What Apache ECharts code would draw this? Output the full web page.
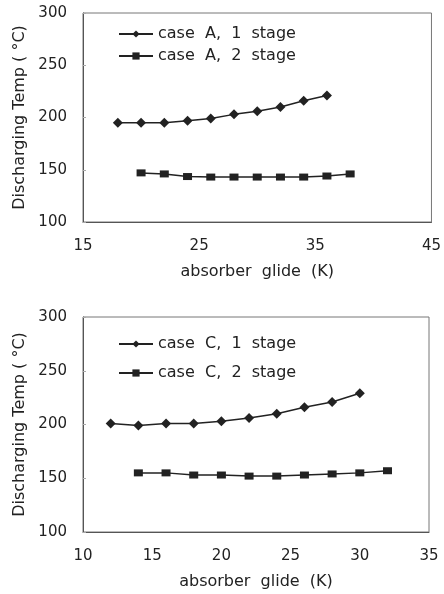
<!DOCTYPE html>
<html>
<head>
<meta charset="utf-8">
<script src="https://cdn.jsdelivr.net/npm/echarts@6/dist/echarts.min.js"></script>
<style>
  html, body { margin: 0; padding: 0; background: #fff; }
  #main { width: 444px; height: 594px; }
</style>
</head>
<body>
<div id="main"></div>
<script>
// case A (top chart)
const xA1 = [18, 20, 22, 24, 26, 28, 30, 32, 34, 36]
const yA1 = [195, 195, 195, 197, 199, 203, 206, 210, 216, 221]
const xA2 = [20, 22, 24, 26, 28, 30, 32, 34, 36, 38]
const yA2 = [147, 146, 143.5, 143, 143, 143, 143, 143, 144, 146]

// case C (bottom chart)
const xC1 = [12, 14, 16, 18, 20, 22, 24, 26, 28, 30]
const yC1 = [201, 199, 201, 201, 203, 206, 210, 216, 221, 229]
const xC2 = [14, 16, 18, 20, 22, 24, 26, 28, 30, 32]
const yC2 = [155, 155, 153, 153, 152, 152, 153, 154, 155, 157]

const namesA = ['case A, 1 stage', 'case A, 2 stage']
const namesC = ['case C, 1 stage', 'case C, 2 stage']

const font = 'DejaVu Sans'
const ink = '#222'

function pairs(xs, ys) {
  return xs.map((x, i) => [x, ys[i]])
}

function xAxisFor(idx, min, max) {
  return {
    gridIndex: idx,
    type: 'value',
    min: min, max: max, interval: idx === 0 ? 10 : 5,
    name: 'absorber  glide  (K)',
    nameLocation: 'middle',
    nameGap: 42,
    nameTextStyle: { fontFamily: font, fontSize: 16, color: ink },
    axisLine: { lineStyle: { color: '#555' } },
    axisTick: { show: false },
    splitLine: { show: false },
    axisLabel: { fontFamily: font, fontSize: 15, color: ink, margin: 17, showMaxLabel: true }
  }
}

function yAxisFor(idx) {
  return {
    gridIndex: idx,
    type: 'value',
    min: 100, max: 300, interval: 50,
    name: 'Discharging Temp ( °C)',
    nameLocation: 'middle',
    nameRotate: 90,
    nameGap: 55,
    nameTextStyle: { fontFamily: font, fontSize: 16, color: ink },
    axisLine: { show: true, lineStyle: { color: '#555' } },
    axisTick: { show: true, inside: true, length: 3, lineStyle: { color: '#aaa' } },
    splitLine: { show: false },
    axisLabel: { fontFamily: font, fontSize: 15, color: ink, margin: 16 }
  }
}

function lineSeries(name, idx, data, symbol, size) {
  return {
    name: name,
    type: 'line',
    xAxisIndex: idx,
    yAxisIndex: idx,
    data: data,
    symbol: symbol,
    symbolSize: size,
    lineStyle: { color: ink, width: 1.5 },
    itemStyle: { color: ink },
    animation: false
  }
}

function legendFor(names, top, gap) {
  return {
    data: names,
    orient: 'vertical',
    left: 113,
    top: top,
    itemWidth: 34,
    itemHeight: 9,
    itemGap: gap,
    formatter: n => n.replace(/ /g, '  '),
    textStyle: { fontFamily: font, fontSize: 16, color: ink, lineHeight: 18 }
  }
}

let chart = echarts.init(document.getElementById('main'))
chart.setOption({
  backgroundColor: '#fff',
  grid: [
    { left: 83, top: 13, width: 351, height: 209, show: true, borderColor: '#777', borderWidth: 1 },
    { left: 83, top: 317, width: 346, height: 215, show: true, borderColor: '#777', borderWidth: 1 }
  ],
  legend: [legendFor(namesA, 20, 4), legendFor(namesC, 330, 11)],
  xAxis: [xAxisFor(0, 15, 45), xAxisFor(1, 10, 35)],
  yAxis: [yAxisFor(0), yAxisFor(1)],
  series: [
    lineSeries(namesA[0], 0, pairs(xA1, yA1), 'diamond', 10),
    lineSeries(namesA[1], 0, pairs(xA2, yA2), 'rect', [9, 7]),
    lineSeries(namesC[0], 1, pairs(xC1, yC1), 'diamond', 10),
    lineSeries(namesC[1], 1, pairs(xC2, yC2), 'rect', [9, 7])
  ]
})
</script>
</body>
</html>
